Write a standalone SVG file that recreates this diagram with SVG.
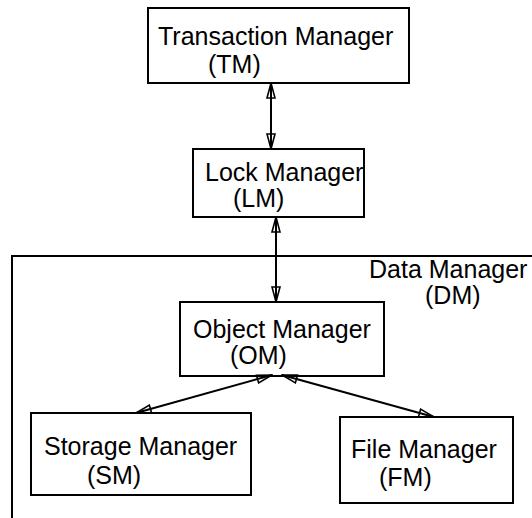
<svg xmlns="http://www.w3.org/2000/svg" width="532" height="518" viewBox="0 0 532 518">
  <style>
    .box { fill: #ffffff; stroke: #000000; stroke-width: 2; }
    .frame { fill: none; stroke: #000000; stroke-width: 2; }
    .lbl { font-family: "Liberation Sans", Arial, sans-serif; font-size: 25px; fill: #000000; }
    .link { fill: none; stroke: #000000; stroke-width: 2; marker-start: url(#head); marker-end: url(#head); }
  </style>
  <defs>
    <marker id="head" viewBox="0 0 17 10" refX="16" refY="5" markerWidth="17" markerHeight="10"
            markerUnits="userSpaceOnUse" orient="auto-start-reverse">
      <path d="M1,1 L16,5 L1,9 Z" fill="none" stroke="#000000" stroke-width="1.6"/>
    </marker>
  </defs>

  <rect width="532" height="518" fill="#ffffff"/>

  <!-- Data Manager enclosure (open to the right and bottom) -->
  <g id="dm">
    <path class="frame" d="M12,530 V256 H540"/>
    <text class="lbl" x="369" y="278">Data Manager</text>
    <text class="lbl" x="425" y="304">(DM)</text>
  </g>

  <g id="tm">
    <rect class="box" x="148" y="8" width="261" height="75"/>
    <text class="lbl" x="158" y="45">Transaction Manager</text>
    <text class="lbl" x="208" y="73">(TM)</text>
  </g>

  <g id="lm">
    <rect class="box" x="193" y="149" width="171" height="68"/>
    <text class="lbl" x="205" y="181">Lock Manager</text>
    <text class="lbl" x="233" y="207">(LM)</text>
  </g>

  <g id="om">
    <rect class="box" x="180" y="302" width="204" height="74"/>
    <text class="lbl" x="193" y="338">Object Manager</text>
    <text class="lbl" x="230" y="364">(OM)</text>
  </g>

  <g id="sm">
    <rect class="box" x="31" y="413" width="220" height="82"/>
    <text class="lbl" x="44" y="455">Storage Manager</text>
    <text class="lbl" x="87" y="484">(SM)</text>
  </g>

  <g id="fm">
    <rect class="box" x="340" y="417" width="173" height="86"/>
    <text class="lbl" x="351" y="458">File Manager</text>
    <text class="lbl" x="379" y="486">(FM)</text>
  </g>

  <g id="connectors">
    <line class="link" x1="271" y1="83" x2="271" y2="149"/>
    <line class="link" x1="276" y1="217" x2="276" y2="302"/>
    <line class="link" x1="272" y1="375" x2="136" y2="413"/>
    <line class="link" x1="282" y1="375" x2="434" y2="417"/>
  </g>
</svg>
